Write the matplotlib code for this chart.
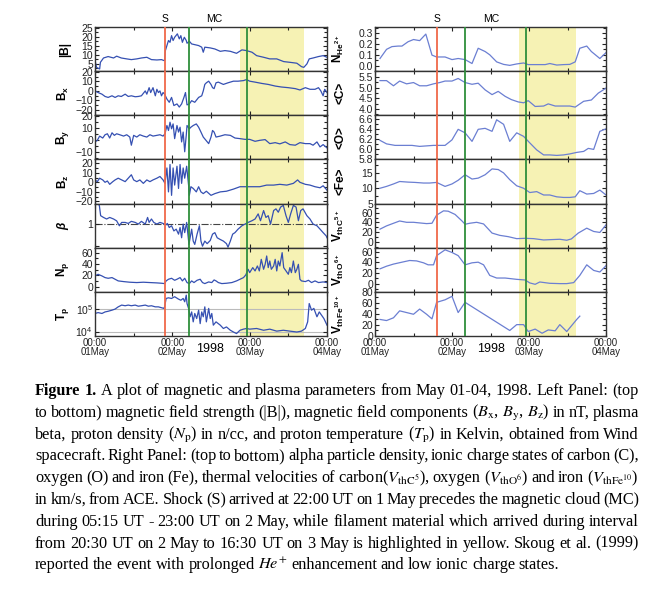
import numpy as np
import matplotlib
matplotlib.use('Agg')
import matplotlib.pyplot as plt
from matplotlib.ticker import AutoMinorLocator, NullLocator, FormatStrFormatter

plt.rcParams['font.family'] = ['Liberation Sans', 'DejaVu Sans']
plt.rcParams['mathtext.fontset'] = 'custom'
plt.rcParams['mathtext.rm'] = 'Liberation Sans:bold'
plt.rcParams['mathtext.it'] = 'Liberation Sans:italic:bold'
plt.rcParams['mathtext.bf'] = 'Liberation Sans:bold'

# ---- left panel (Wind), time in days from 01 May 00:00 ----
b_t = [0, .02, .06, .07, .11, .17, .24, .28, .34, .41, .47, .54, .60, .67, .73, .80, .86, .89, .90, .91,
       .93, .95, .97, .99, 1.01, 1.03, 1.065, 1.09, 1.11, 1.13, 1.155, 1.18, 1.19, 1.22, 1.25, 1.29, 1.34,
       1.38, 1.40, 1.42, 1.49, 1.55, 1.62, 1.68, 1.75, 1.83, 1.90, 1.96, 2.03, 2.09, 2.18, 2.26, 2.35,
       2.44, 2.52, 2.61, 2.67, 2.70, 2.74, 2.77, 2.82, 2.89, 2.95, 3.0]
b_mag = [6.9, 3.1, 2.2, 5.9, 8.3, 9.1, 8.3, 9.3, 8.3, 7.8, 7.4, 7.8, 8.3, 8.7, 7.4, 7.2, 7.4, 6.9, 6.9, 12.4,
         15.2, 18.0, 17.0, 20.7, 18.0, 19.8, 21.7, 18.9, 20.7, 17.0, 19.8, 18.0, 16.5, 17.6, 16.1, 15.7, 15.2,
         14.3, 11.5, 14.3, 13.9, 13.3, 12.0, 12.4, 12.0, 10.9, 12.8, 12.4, 11.5, 9.6, 8.7, 7.8, 7.8, 6.3,
         5.9, 5.4, 3.5, 3.1, 5.0, 7.8, 8.3, 9.1, 9.6, 8.7]

bx_t = [0, .04, .09, .13, .17, .22, .26, .30, .34, .39, .43, .47, .52, .56, .60, .65, .67, .70, .72, .75,
        .78, .80, .82, .84, .86, .88, .90, .93, .96, .99, 1.02, 1.06, 1.09, 1.12, 1.15, 1.17, 1.19, 1.22,
        1.25, 1.29, 1.34, 1.38, 1.40, 1.42, 1.44, 1.47, 1.50, 1.52, 1.54, 1.565, 1.595, 1.66, 1.72, 1.79,
        1.85, 1.92, 1.96, 2.00, 2.07, 2.16, 2.24, 2.33, 2.41, 2.50, 2.59, 2.65, 2.72, 2.78, 2.845, 2.89,
        2.92, 2.95, 2.97, 3.0]
bx = [0, -1.7, -3.4, -5.8, -6.8, -5.1, -6.8, -5.1, -5.8, -3.4, -5.8, -5.1, -6.1, -5.8, -5.1, 0, -3.4, 3.4,
      -1.7, 3.4, -5.1, 1.7, -1.7, 0, -5.1, -1.7, -3.4, -8.5, -11.9, -6.8, -15.3, -13.6, -16.9, -13.6, -6.8,
      -1.7, -14.6, -13.6, -10.2, -11.9, -6.8, -5.1, 0, 6.8, 8.5, 10.2, 6.8, 3.4, 2.4, 8.5, 9.2, 6.8, 8.5,
      10.2, 10.2, 10.8, 11.9, 10.2, 9.2, 7.8, 6.8, 5.1, 4.1, 3.4, 2.4, 1.0, 3.4, 1.7, 1.7, 3.4, 0, -5.1,
      1.7, -1.7]

by_t = [0, .03, .06, .10, .13, .16, .19, .22, .25, .28, .32, .37, .41, .45, .47, .50, .54, .58, .625, .67,
        .71, .75, .80, .84, .88, .905, .93, .95, .97, .99, 1.01, 1.03, 1.06, 1.08, 1.10, 1.12, 1.14, 1.16,
        1.18, 1.19, 1.22, 1.24, 1.27, 1.31, 1.34, 1.37, 1.40, 1.435, 1.47, 1.50, 1.52, 1.54, 1.565, 1.62,
        1.68, 1.75, 1.81, 1.875, 1.94, 2.00, 2.07, 2.13, 2.20, 2.26, 2.33, 2.39, 2.46, 2.52, 2.59, 2.65,
        2.72, 2.78, 2.82, 2.87, 2.91, 2.95, 3.0]
by = [-1.6, -0.3, 3.2, 1.6, 4.3, 5.1, 1.6, 5.9, 3.8, 5.1, 4.3, 3.2, 4.3, 2.4, -4.3, 3.8, 2.4, 4.3, 3.2, 2.4,
      4.3, 3.2, 3.8, 4.3, 3.2, 5.1, 11.9, 7.8, 14.6, 9.2, 13.2, 1.1, 11.9, 6.5, 10.5, -1.6, 6.5, -9.7, 3.8,
      11.9, 9.2, 10.5, 11.9, 13.2, 10.5, 6.5, 2.4, -0.3, -3.0, 2.4, 7.8, 6.5, 2.4, 3.2, 4.3, 3.8, 1.6, 1.1,
      0.5, 0.5, -1.1, -0.3, 0.3, -3.0, -2.2, -3.2, -1.6, -3.8, -4.3, -2.2, -3.0, -3.0, -4.3, -1.6, -5.7,
      -3.8, -6.5]

bz_t = [0, .03, .06, .10, .13, .16, .19, .23, .26, .30, .345, .39, .43, .47, .50, .54, .58, .625, .67, .71,
        .75, .80, .84, .88, .905, .93, .95, .97, .99, 1.01, 1.03, 1.06, 1.08, 1.10, 1.12, 1.14, 1.16, 1.185,
        1.21, 1.22, 1.24, 1.27, 1.31, 1.34, 1.37, 1.40, 1.44, 1.50, 1.55, 1.62, 1.70, 1.79, 1.875, 1.96,
        2.05, 2.13, 2.22, 2.31, 2.39, 2.48, 2.565, 2.62, 2.65, 2.72, 2.78, 2.845, 2.91, 2.95, 3.0]
bz = [2.5, 0.7, 4.3, 2.5, 0, 1.4, -2.1, 0.7, 2.5, 4.3, 2.5, 0.7, 4.3, 7.9, 2.5, 0.7, 2.5, -1.1, 2.5, 0.7,
      2.5, 4.3, 6.1, 2.5, -1.1, 15, -10, 18.6, -13.6, 15, -2.9, 16.8, -6.4, 18.6, -1.1, 15, 4.3, 16.8,
      -2.9, -13.6, -4.6, -6.4, -10, -4.6, -10, -11.8, -9.3, -13.6, -11.8, -10, -9.3, -7.1, -4.6, -4.6,
      -4.6, -4.6, -2.9, -2.9, -2.1, -2.9, -1.1, 2.5, 0, -2.1, -2.9, -4.6, -5.7, -3.6, -8.2]

beta_t = [0, .03, .056, .073, .11, .15, .19, .24, .28, .315, .345, .39, .43, .47, .52, .56, .60, .65, .68,
          .70, .73, .76, .80, .84, .88, .92, .935, .96, .99, 1.02, 1.05, 1.08, 1.10, 1.12, 1.14, 1.16,
          1.185, 1.215, 1.23, 1.25, 1.27, 1.29, 1.32, 1.35, 1.37, 1.39, 1.42, 1.45, 1.49, 1.52, 1.55, 1.58,
          1.62, 1.66, 1.70, 1.72, 1.75, 1.78, 1.81, 1.85, 1.90, 1.94, 1.98, 2.03, 2.07, 2.11, 2.14, 2.18,
          2.21, 2.24, 2.27, 2.31, 2.34, 2.37, 2.40, 2.435, 2.47, 2.50, 2.53, 2.565, 2.60, 2.63, 2.66, 2.69,
          2.74, 2.78, 2.82, 2.87, 2.91, 2.95, 2.99, 3.0]
beta = [8.4, 9.0, 7.0, 2.4, 2.0, 1.7, 2.0, 1.7, 1.4, 0.84, 1.19, 1.19, 1.07, 1.33, 1.19, 1.0, 1.33, 1.0, 2.0,
        1.19, 1.7, 1.19, 1.0, 1.19, 1.07, 0.93, 1.07, 0.70, 0.84, 0.49, 0.59, 0.35, 0.70, 0.24, 1.0, 0.41,
        1.19, 0.12, 0.24, 0.59, 0.17, 0.12, 0.35, 0.84, 0.17, 0.10, 0.17, 0.13, 0.18, 0.35, 0.41, 0.24,
        0.20, 0.17, 0.13, 0.09, 0.17, 0.35, 0.41, 0.59, 0.84, 1.0, 1.19, 1.42, 1.70, 2.9, 1.42, 4.1, 2.0,
        2.4, 1.0, 4.1, 4.9, 3.45, 5.9, 7.0, 2.4, 1.19, 2.9, 7.0, 5.9, 1.42, 4.1, 4.9, 2.4, 1.7, 1.0, 0.84,
        0.59, 0.41, 0.29, 0.24]

np_t = [0, .04, .09, .13, .17, .22, .26, .30, .37, .45, .54, .625, .71, .80, .86, .90, .92, .95, .99, 1.03,
        1.06, 1.10, 1.13, 1.16, 1.19, 1.22, 1.25, 1.28, 1.32, 1.36, 1.39, 1.42, 1.47, 1.51, 1.54, 1.565,
        1.595, 1.64, 1.70, 1.77, 1.83, 1.875, 1.92, 1.95, 1.98, 2.00, 2.04, 2.07, 2.10, 2.125, 2.15, 2.18,
        2.20, 2.22, 2.24, 2.26, 2.28, 2.31, 2.33, 2.35, 2.37, 2.39, 2.42, 2.44, 2.47, 2.50, 2.52, 2.54,
        2.565, 2.59, 2.61, 2.63, 2.65, 2.67, 2.72, 2.76, 2.80, 2.845, 2.89, 2.95, 3.0]
n_p = [19.2, 22.1, 19.2, 16.3, 15.1, 16.3, 13.4, 10.5, 9.3, 8.2, 7.6, 8.2, 7.6, 7.0, 6.4, 5.8, 10.5, 13.4,
       15.1, 11.6, 13.4, 16.3, 10.5, 15.1, 7.6, 5.8, 10.5, 7.6, 11.6, 13.4, 7.6, 5.8, 8.7, 7.6, 12.2, 10.5,
       7.6, 5.8, 6.4, 7.6, 10.5, 13.4, 16.3, 21.0, 30.9, 25.0, 33.8, 28.0, 36.7, 28.0, 48.3, 30.9, 39.6,
       54.2, 33.8, 45.4, 30.9, 36.7, 48.3, 28.0, 45.4, 36.7, 60.0, 33.8, 28.0, 22.1, 33.8, 25.0, 45.4,
       25.0, 30.9, 39.6, 13.4, 10.5, 9.3, 11.6, 7.6, 10.5, 7.6, 8.7, 7.6]

tp_t = [0, .04, .09, .13, .17, .22, .26, .30, .345, .39, .43, .47, .52, .56, .60, .65, .69, .73, .78, .82,
        .86, .89, .90, .92, .95, .99, 1.03, 1.08, 1.11, 1.14, 1.16, 1.18, 1.19, 1.21, 1.23, 1.25, 1.27,
        1.29, 1.315, 1.34, 1.36, 1.38, 1.40, 1.42, 1.44, 1.47, 1.49, 1.51, 1.53, 1.565, 1.62, 1.66, 1.70,
        1.75, 1.79, 1.83, 1.875, 1.92, 1.96, 2.00, 2.09, 2.18, 2.26, 2.35, 2.435, 2.52, 2.61, 2.67, 2.72,
        2.75, 2.77, 2.80, 2.83, 2.87, 2.90, 2.93, 2.96, 3.0]
tp_log = [4.82, 4.86, 4.82, 4.89, 4.92, 4.97, 5.02, 5.12, 5.20, 5.17, 5.20, 5.17, 5.20, 5.15, 5.17, 5.20,
          5.15, 5.17, 5.12, 5.12, 5.08, 5.05, 5.12, 5.50, 5.53, 5.50, 5.58, 5.47, 5.42, 5.50, 5.35, 5.65,
          5.27, 5.05, 4.67, 4.89, 4.44, 4.82, 4.59, 4.97, 4.36, 4.89, 4.67, 5.12, 4.44, 5.05, 4.59, 4.82,
          4.29, 4.44, 4.29, 4.14, 4.21, 4.06, 3.98, 3.91, 4.06, 4.11, 4.14, 4.11, 4.14, 4.06, 4.11, 4.02,
          4.06, 4.02, 3.98, 4.02, 4.14, 4.44, 5.27, 4.97, 5.05, 4.67, 4.89, 4.74, 4.59, 4.29]

# ---- right panel (ACE) ----
he_t = [.065, .15, .22, .30, .35, .43, .50, .58, .66, .74, .80, .91, 1.0, 1.08, 1.17, 1.26, 1.34, 1.43, 1.49,
        1.58, 1.67, 1.75, 1.84, 1.93, 1.99, 2.10, 2.21, 2.27, 2.36, 2.45, 2.53, 2.60, 2.66, 2.75, 2.81,
        2.92, 3.0]
n_he = [0.066, 0.15, 0.175, 0.18, 0.18, 0.22, 0.24, 0.23, 0.29, 0.097, 0.08, 0.08, 0.056, 0.066, 0.056,
        0.02, 0.16, 0.13, 0.10, 0.035, 0.012, 0.003, 0.016, 0.025, 0.01, 0.01, 0.01, 0.02, 0.006, 0.01,
        0.012, 0.035, 0.16, 0.18, 0.13, 0.066, 0.12]

c_t = [.065, .15, .24, .32, .41, .50, .58, .67, .76, .84, .91, 1.0, 1.08, 1.17, 1.26, 1.34, 1.43, 1.52,
       1.60, 1.69, 1.77, 1.86, 1.93, 1.99, 2.08, 2.19, 2.25, 2.34, 2.45, 2.53, 2.60, 2.71, 2.81, 2.90, 3.0]
q_c = [5.32, 5.32, 5.08, 5.30, 5.17, 5.23, 5.08, 5.08, 5.17, 5.23, 5.30, 5.30, 5.42, 5.23, 5.15, 5.20, 4.89,
       4.67, 4.82, 4.59, 4.44, 4.33, 4.29, 4.39, 4.12, 4.14, 4.24, 4.14, 4.14, 4.14, 4.09, 4.36, 4.42,
       4.74, 4.97]

o_t = [.065, .15, .26, .37, .48, .58, .67, .76, .91, 1.0, 1.08, 1.17, 1.26, 1.34, 1.43, 1.52, 1.58, 1.67,
       1.75, 1.84, 1.93, 2.01, 2.10, 2.19, 2.27, 2.36, 2.45, 2.53, 2.62, 2.71, 2.77, 2.84, 2.92, 3.0]
q_o = [6.18, 6.11, 6.08, 6.08, 6.08, 6.06, 6.07, 6.08, 6.08, 6.19, 6.40, 6.33, 6.16, 6.40, 6.42, 6.36, 6.59,
       6.50, 6.16, 6.33, 6.26, 6.13, 5.99, 5.89, 5.89, 5.88, 5.89, 5.91, 5.94, 5.96, 6.02, 6.00, 6.36, 6.41]

fe_t = [.065, .15, .24, .32, .43, .52, .63, .71, .80, .91, 1.0, 1.08, 1.17, 1.26, 1.34, 1.43, 1.52, 1.60,
        1.67, 1.75, 1.84, 1.93, 2.01, 2.10, 2.19, 2.27, 2.36, 2.45, 2.53, 2.60, 2.66, 2.75, 2.84, 2.92, 3.0]
q_fe = [10.0, 10.6, 11.4, 12.2, 12.0, 11.9, 11.7, 11.7, 11.9, 10.6, 11.4, 12.6, 14.4, 13.0, 13.3, 14.4, 16.3,
        16.1, 15.0, 12.8, 10.8, 10.0, 8.6, 8.9, 7.8, 7.8, 7.2, 7.0, 7.0, 7.2, 9.2, 8.1, 8.3, 9.4, 7.8]

vc_t = [.065, .15, .24, .32, .41, .50, .58, .67, .74, .80, .89, .95, 1.04, 1.13, 1.17, 1.23, 1.32, 1.41,
        1.52, 1.62, 1.73, 1.84, 1.95, 2.06, 2.19, 2.29, 2.40, 2.49, 2.55, 2.64, 2.75, 2.84, 2.92, 3.0]
v_c = [26.3, 33, 38.4, 43.1, 40.4, 40.4, 39.1, 37.7, 38.4, 55.2, 64, 63.3, 56.6, 43.1, 36.4, 38.4, 40.4, 37,
       18.2, 13.5, 10.8, 6.7, 7.4, 6.7, 4.0, 4.7, 5.4, 3.4, 6.1, 18.2, 28.3, 21.5, 19.5, 35]

vo_t = [.065, .15, .24, .35, .45, .54, .63, .69, .76, .80, .91, 1.0, 1.08, 1.17, 1.26, 1.34, 1.41, 1.49,
        1.58, 1.69, 1.84, 1.95, 2.01, 2.08, 2.14, 2.27, 2.40, 2.49, 2.58, 2.66, 2.75, 2.84, 2.92, 3.0]
v_o = [28, 33, 37, 40.6, 43.8, 43, 39.4, 35.6, 35.6, 53, 64, 59, 53, 35.6, 39.4, 40.6, 35.6, 15.6, 10.6, 10.6,
       8.1, 6.9, 1.3, -1.3, 3.1, 0.6, 0, 0, 1.9, 15.6, 35.6, 25, 22, 34]

vfe_t = [.065, .15, .24, .32, .41, .50, .58, .67, .74, .80, .91, 1.0, 1.08, 1.17, 1.75, 1.84, 1.93, 1.99,
         2.08, 2.17, 2.25, 2.34, 2.40, 2.49, 2.62, 2.66]
v_fe = [30, 28, 33, 45.6, 42.5, 39.4, 48.8, 39.4, 31, 61, 65.6, 71.9, 42.5, 61, 10, 20.6, 20.6, 8.1, 12.5, 5,
        11, 9.4, 20.6, 8.1, 30, 36]

date_labels = ['00:00\n01May', '00:00\n02May', '00:00\n03May', '00:00\n04May']

# event times (days) as drawn in each panel: shock, MC start, MC end, filament start/end
left_marks = (0.905, 1.22, 1.96, 1.88, 2.70)
right_marks = (0.80, 1.17, 1.96, 1.87, 2.61)

RED = '#f0694a'
GREEN = '#2f8f3c'
YELLOW = '#f6f2b4'
BLUE_L = '#3550b2'
BLUE_R = '#6b7fd2'

W, H = 672.0, 601.0
fig = plt.figure(figsize=(6.72, 6.01), dpi=100)

TOP, BOT = 27.0, 336.0
ph = (BOT - TOP) / 7


def make_panel(x0, x1, i, t, y, label, ylim, ticks, marks, color, labx,
               log=False, fmt=None, ticklabels=None, minor=True):
    y0 = TOP + i * ph
    ax = fig.add_axes([x0 / W, 1 - (y0 + ph) / H, (x1 - x0) / W, ph / H])
    s, m1, m2, f1, f2 = marks
    ax.axvspan(f1, f2, color=YELLOW, lw=0, zorder=0)
    ax.plot(t, y, color=color, lw=0.9, zorder=2)
    ax.axvline(s, color=RED, lw=1.3, zorder=3)
    ax.axvline(m1, color=GREEN, lw=1.3, zorder=3)
    ax.axvline(m2, color=GREEN, lw=1.3, zorder=3)
    if log:
        ax.set_yscale('log')
    ax.set_xlim(0, 3)
    ax.set_ylim(*ylim)
    ax.set_yticks(ticks)
    if ticklabels is not None:
        ax.set_yticklabels(ticklabels)
    if fmt:
        ax.yaxis.set_major_formatter(FormatStrFormatter(fmt))
    if log:
        ax.yaxis.set_minor_locator(NullLocator())
    elif minor:
        ax.yaxis.set_minor_locator(AutoMinorLocator(2))
    ax.set_xticks([0, 1, 2, 3])
    ax.set_xticks([0.5, 1.5, 2.5], minor=True)
    ax.tick_params(which='both', direction='in', top=True, right=True,
                   length=3, width=0.8, labelsize=7.5, pad=1.5, colors='#222222')
    ax.tick_params(which='minor', length=2)
    if i == 6:
        ax.set_xticklabels(date_labels, fontsize=7, linespacing=0.9)
    else:
        ax.tick_params(labelbottom=False)
    for sp in ax.spines.values():
        sp.set_color('#333333')
        sp.set_linewidth(1.0)
    ax.set_ylabel(label, fontsize=8.5, fontweight='bold')
    ax.yaxis.set_label_coords(labx, 0.5)
    return ax


LX0, LX1 = 95.0, 327.0
RX0, RX1 = 375.0, 606.0

left_axes = [
    make_panel(LX0, LX1, 0, b_t, b_mag, '|B|', (1, 25.5), [5, 10, 15, 20, 25], left_marks, BLUE_L, -0.105),
    make_panel(LX0, LX1, 1, bx_t, bx, r'$\mathrm{B_x}$', (-25.5, 20.7), [-20, -10, 0, 10, 20], left_marks, BLUE_L, -0.105),
    make_panel(LX0, LX1, 2, by_t, by, r'$\mathrm{B_y}$', (-16, 20.3), [-10, 0, 10, 20], left_marks, BLUE_L, -0.105),
    make_panel(LX0, LX1, 3, bz_t, bz, r'$\mathrm{B_z}$', (-22.2, 23.9), [-20, -10, 0, 10, 20], left_marks, BLUE_L, -0.105),
    make_panel(LX0, LX1, 4, beta_t, beta, r'$\beta$', (0.085, 8.5), [0.1, 1], left_marks, BLUE_L, -0.105,
               log=True, ticklabels=['', '1']),
    make_panel(LX0, LX1, 5, np_t, n_p, r'$\mathrm{N_p}$', (-8.7, 68.7), [0, 20, 40, 60], left_marks, BLUE_L, -0.105),
    make_panel(LX0, LX1, 6, tp_t, 10 ** np.array(tp_log), r'$\mathrm{T_p}$', (6300, 6.3e5), [1e4, 1e5],
               left_marks, BLUE_L, -0.105, log=True),
]
left_axes[4].axhline(1, color='#444444', lw=0.8, ls='-.', zorder=1)
left_axes[6].axhline(1e4, color='#bbbbbb', lw=0.8, zorder=1)
left_axes[6].axhline(1e5, color='#bbbbbb', lw=0.8, zorder=1)

right_axes = [
    make_panel(RX0, RX1, 0, he_t, n_he, r'$\mathrm{N_{He^{2+}}}$', (-0.05, 0.355), [0.0, 0.1, 0.2, 0.3],
               right_marks, BLUE_R, -0.125, fmt='%.1f'),
    make_panel(RX0, RX1, 1, c_t, q_c, '<C>', (3.71, 5.76), [4.0, 4.5, 5.0, 5.5], right_marks, BLUE_R, -0.125,
               fmt='%.1f'),
    make_panel(RX0, RX1, 2, o_t, q_o, '<O>', (5.8, 6.68), [5.8, 6.0, 6.2, 6.4, 6.6], right_marks, BLUE_R, -0.125,
               fmt='%.1f'),
    make_panel(RX0, RX1, 3, fe_t, q_fe, '<Fe>', (5, 19.4), [5, 10, 15], right_marks, BLUE_R, -0.125),
    make_panel(RX0, RX1, 4, vc_t, v_c, r'$\mathrm{V_{th\,C^{5+}}}$', (-12, 79), [0, 20, 40, 60], right_marks,
               BLUE_R, -0.125),
    make_panel(RX0, RX1, 5, vo_t, v_o, r'$\mathrm{V_{th\,O^{6+}}}$', (-15.6, 68), [0, 20, 40, 60], right_marks,
               BLUE_R, -0.125),
    make_panel(RX0, RX1, 6, vfe_t, v_fe, r'$\mathrm{V_{th\,Fe^{10+}}}$', (0, 80), [0, 20, 40, 60, 80],
               right_marks, BLUE_R, -0.125),
]

for ax, marks in ((left_axes[0], left_marks), (right_axes[0], right_marks)):
    tr = ax.get_xaxis_transform()
    ax.text(marks[0], 1.06, 'S', transform=tr, ha='center', va='bottom', fontsize=7.5)
    ax.text((marks[1] + marks[2]) / 2 - 0.05, 1.06, 'MC', transform=tr, ha='center', va='bottom', fontsize=7.5)

fig.text(210 / W, 1 - 349 / H, '1998', ha='center', va='center', fontsize=9)
fig.text(491 / W, 1 - 349 / H, '1998', ha='center', va='center', fontsize=9)

# ---- caption, justified between x0 and x1 ----
caption = [
    r"Figure 1. A plot of magnetic and plasma parameters from May 01-04, 1998. Left Panel: (top",
    r"to bottom) magnetic field strength (|B|), magnetic field components ($B_\mathrm{x}$, $B_\mathrm{y}$, $B_\mathrm{z}$) in nT, plasma",
    r"beta, proton density ($N_\mathrm{p}$) in n/cc, and proton temperature ($T_\mathrm{p}$) in Kelvin, obtained from Wind",
    r"spacecraft. Right Panel: (top to bottom) alpha particle density, ionic charge states of carbon (C),",
    r"oxygen (O) and iron (Fe), thermal velocities of carbon($V_{\mathrm{thC}^{5}}$), oxygen ($V_{\mathrm{thO}^{6}}$) and iron ($V_{\mathrm{thFe}^{10}}$)",
    r"in km/s, from ACE. Shock (S) arrived at 22:00 UT on 1 May precedes the magnetic cloud (MC)",
    r"during 05:15 UT - 23:00 UT on 2 May, while filament material which arrived during interval",
    r"from 20:30 UT on 2 May to 16:30 UT on 3 May is highlighted in yellow. Skoug et al. (1999)",
    r"reported the event with prolonged $He^{+}$ enhancement and low ionic charge states.",
]
CX0, CX1 = 35.0, 639.0
base0, step = 395.0, 21.8
renderer = fig.canvas.get_renderer()
space_w = None
for k, line in enumerate(caption):
    words = line.split(' ')
    ypos = 1 - (base0 + k * step) / H
    texts = []
    for j, w in enumerate(words):
        bold = (k == 0 and j < 2)
        texts.append(fig.text(0, ypos, w, fontsize=11.7, family='Liberation Serif', math_fontfamily='stix',
                              fontweight='bold' if bold else 'normal', va='baseline', ha='left'))
    widths = [t.get_window_extent(renderer).width for t in texts]
    if k < len(caption) - 1:
        gap = (CX1 - CX0 - sum(widths)) / (len(words) - 1)
    else:
        gap = 3.6
    x = CX0
    for t, wd in zip(texts, widths):
        t.set_x(x / W)
        x += wd + gap

fig.savefig('out.png', dpi=100)
